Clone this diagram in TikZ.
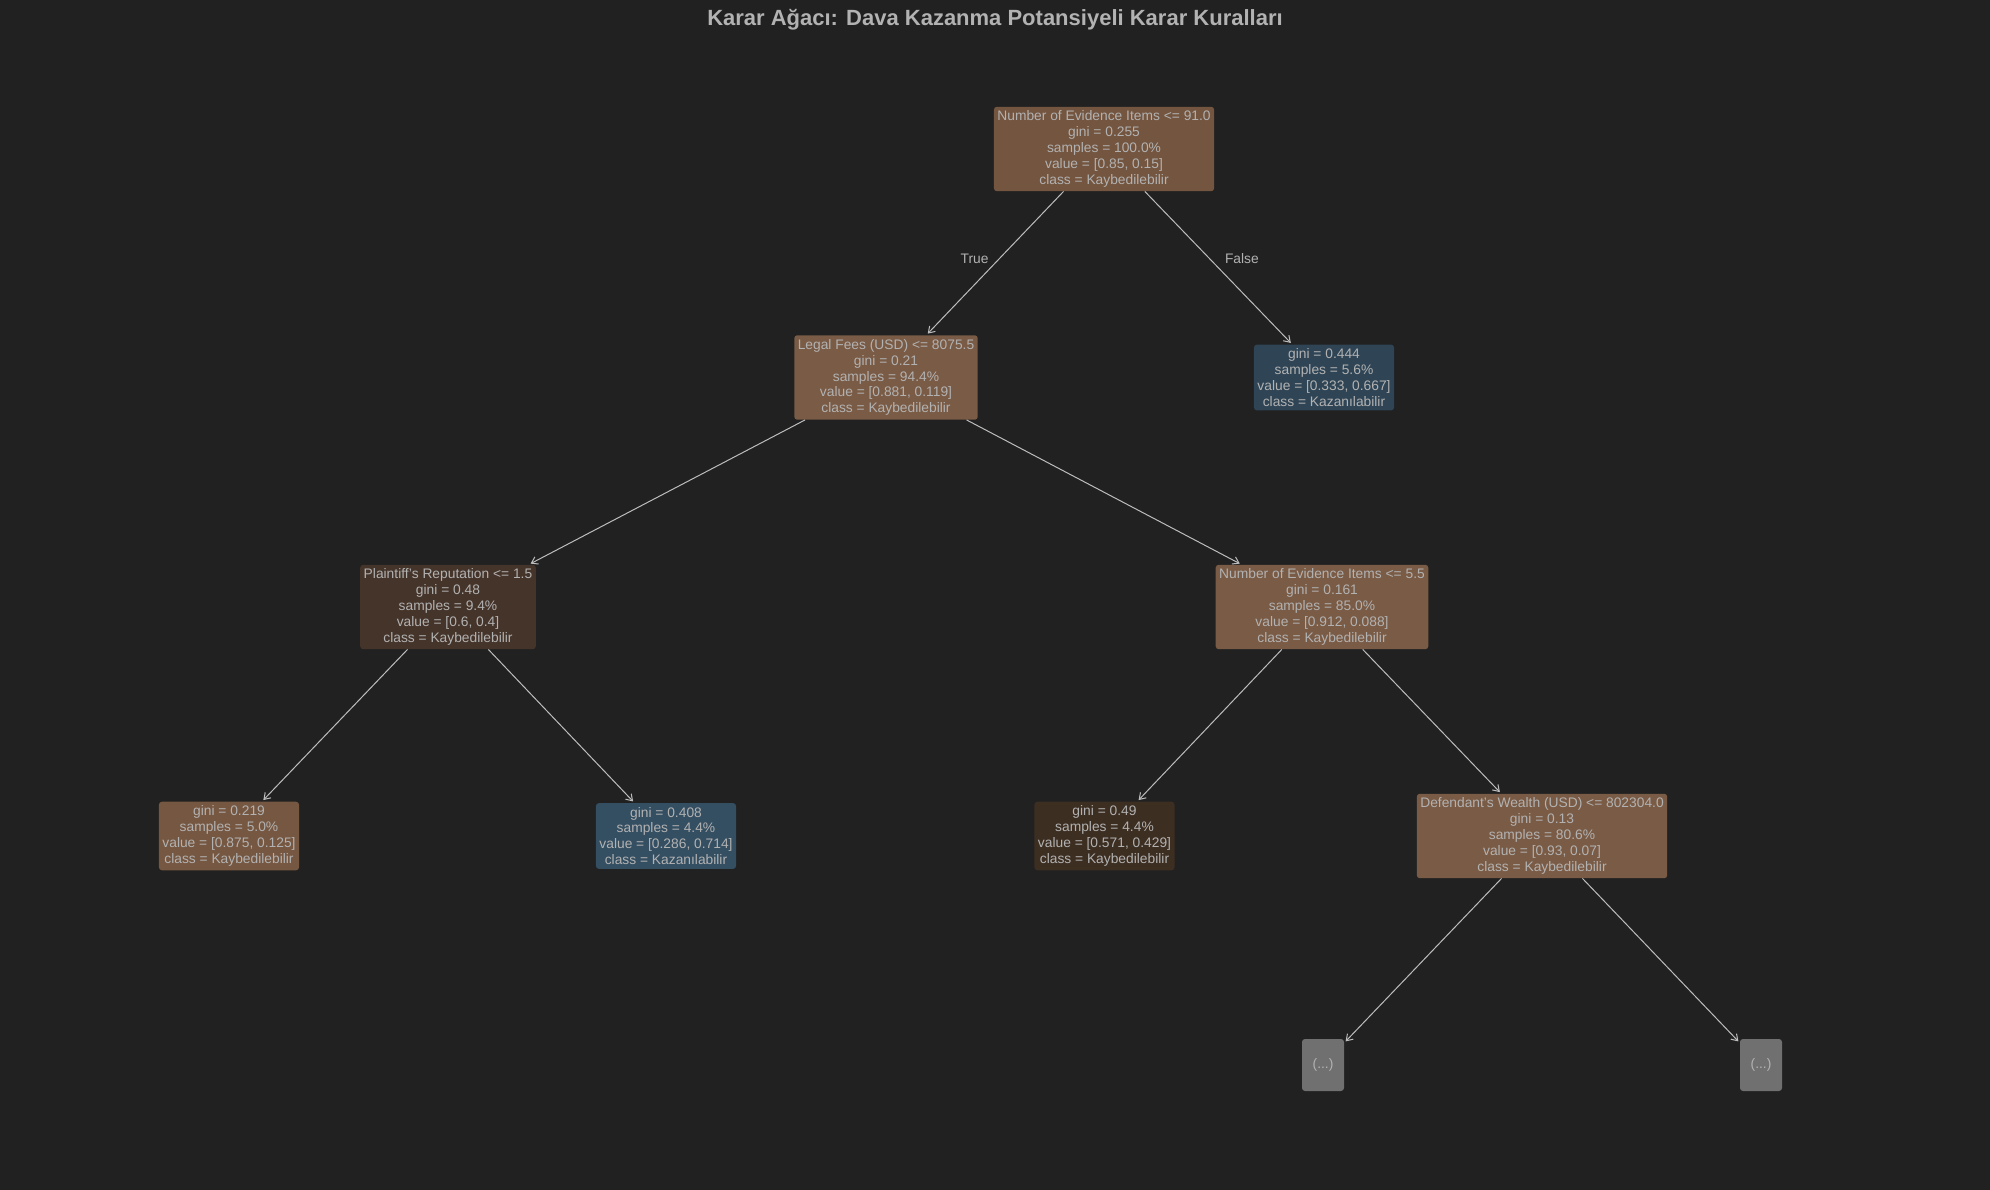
\documentclass[tikz,border=0pt]{standalone}
\usepackage{fontspec}
\setmainfont{Liberation Sans}
\usetikzlibrary{arrows.meta}

\definecolor{bgdark}{HTML}{212121}
\definecolor{txtgray}{HTML}{B2B2B2}
\definecolor{edgegray}{HTML}{BDBDBD}
\definecolor{brownroot}{HTML}{74553F}
\definecolor{brownmid}{HTML}{7A5B45}
\definecolor{brownleaf}{HTML}{765741}
\definecolor{browndark}{HTML}{45342A}
\definecolor{browndeep}{HTML}{3D2E22}
\definecolor{bluedark}{HTML}{2F4556}
\definecolor{bluemid}{HTML}{344E62}
\definecolor{moregray}{HTML}{707070}

\begin{document}
\begin{tikzpicture}[x=1pt,y=-1pt,
    every node/.style={font=\fontsize{13.8}{15.9}\selectfont, text=txtgray},
    treebox/.style={rounded corners=3pt, align=center, inner xsep=3.5pt, inner ysep=4pt},
    morebox/.style={rounded corners=3pt, fill=moregray, minimum width=42pt, minimum height=52pt, inner sep=0pt},
    flow/.style={edgegray, line width=1pt, -{Straight Barb[length=6pt,width=8pt]}, shorten >=2pt}]
    % Background
    \fill[bgdark] (0,0) rectangle (1990,1190);
    \useasboundingbox (0,0) rectangle (1990,1190);

    % Title
    \node[anchor=base, font=\fontsize{22}{26}\selectfont\bfseries, text=txtgray] (title) at (995,26)
        {Karar Ağacı: Dava Kazanma Potansiyeli Karar Kuralları};

    % Split nodes
    \node[treebox, fill=brownroot] (root) at (1104,149) {Number of Evidence Items <= 91.0\\gini = 0.255\\samples = 100.0\%\\value = [0.85, 0.15]\\class = Kaybedilebilir};
    \node[treebox, fill=brownmid] (fees) at (886,377.5) {Legal Fees (USD) <= 8075.5\\gini = 0.21\\samples = 94.4\%\\value = [0.881, 0.119]\\class = Kaybedilebilir};
    \node[treebox, fill=browndark] (reput) at (448,607) {Plaintiff's Reputation <= 1.5\\gini = 0.48\\samples = 9.4\%\\value = [0.6, 0.4]\\class = Kaybedilebilir};
    \node[treebox, fill=brownmid] (evid) at (1322,607) {Number of Evidence Items <= 5.5\\gini = 0.161\\samples = 85.0\%\\value = [0.912, 0.088]\\class = Kaybedilebilir};
    \node[treebox, fill=brownmid] (wealth) at (1542,836) {Defendant's Wealth (USD) <= 802304.0\\gini = 0.13\\samples = 80.6\%\\value = [0.93, 0.07]\\class = Kaybedilebilir};

    % Leaves
    \node[treebox, fill=bluedark] (leafA) at (1324,377.5) {gini = 0.444\\samples = 5.6\%\\value = [0.333, 0.667]\\class = Kazanılabilir};
    \node[treebox, fill=brownleaf] (leafB) at (229,836) {gini = 0.219\\samples = 5.0\%\\value = [0.875, 0.125]\\class = Kaybedilebilir};
    \node[treebox, fill=bluemid] (leafC) at (666,836) {gini = 0.408\\samples = 4.4\%\\value = [0.286, 0.714]\\class = Kazanılabilir};
    \node[treebox, fill=browndeep] (leafD) at (1104.5,836) {gini = 0.49\\samples = 4.4\%\\value = [0.571, 0.429]\\class = Kaybedilebilir};

    % Truncated subtrees
    \node[morebox] (moreL) at (1323,1065) {(...)};
    \node[morebox] (moreR) at (1761,1065) {(...)};

    % Edges
    \draw[flow] (root) -- node[pos=.5, left, inner sep=6pt, yshift=4pt] {True} (fees);
    \draw[flow] (root) -- node[pos=.5, right, inner sep=6pt, yshift=9pt] {False} (leafA);
    \draw[flow] (fees) -- (reput);
    \draw[flow] (fees) -- (evid);
    \draw[flow] (reput) -- (leafB);
    \draw[flow] (reput) -- (leafC);
    \draw[flow] (evid) -- (leafD);
    \draw[flow] (evid) -- (wealth);
    \draw[flow] (wealth) -- (moreL);
    \draw[flow] (wealth) -- (moreR);
\end{tikzpicture}
\end{document}
